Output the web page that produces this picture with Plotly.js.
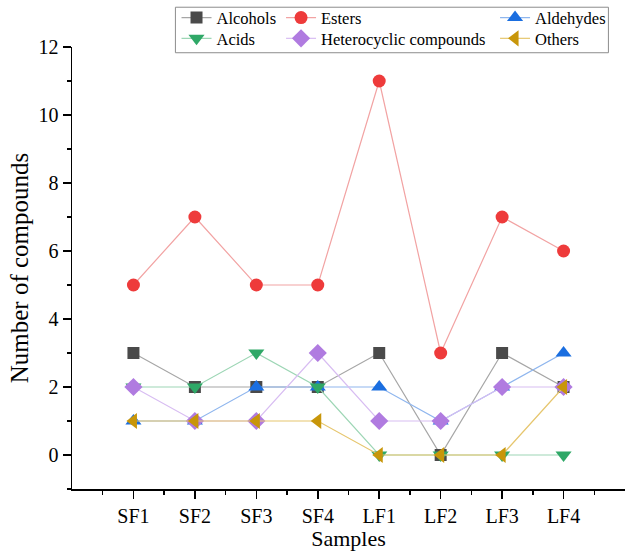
<!DOCTYPE html>
<html>
<head>
<meta charset="utf-8">
<script src="https://cdn.plot.ly/plotly-3.0.1.min.js"></script>
<style>html,body{margin:0;padding:0;background:#fff;}#chart{width:625px;height:551px;}</style>
</head>
<body>
<div id="chart"></div>
<script>
const categories = ['SF1','SF2','SF3','SF4','LF1','LF2','LF3','LF4'];
const alcohols = [3,2,2,2,3,0,3,2];
const esters = [5,7,5,5,11,3,7,6];
const aldehydes = [1,1,2,2,2,1,2,3];
const acids = [2,2,3,2,0,0,0,0];
const heterocyclic = [2,1,1,3,1,1,2,2];
const others = [1,1,1,1,0,0,0,2];
const seriesNames = ['Alcohols','Esters','Aldehydes','Acids','Heterocyclic compounds','Others'];

const xIdx = categories.map((c,i)=>i);
const FONT = '"Liberation Serif", "Times New Roman", serif';

const styles = [
  {sym:'square', mc:'#4a4a4a', lc:'#a6a6a6', size:12, legend:'legend'},
  {sym:'circle', mc:'#ee3b3b', lc:'#f2a3a3', size:13, legend:'legend2'},
  {sym:'triangle-up', mc:'#1a6ee0', lc:'#8fb6ee', size:14, legend:'legend3'},
  {sym:'triangle-down', mc:'#2fa867', lc:'#9dd6b5', size:14, legend:'legend4'},
  {sym:'diamond', mc:'#b07be0', lc:'#d8bdf2', size:14, legend:'legend5'},
  {sym:'triangle-left', mc:'#c8960a', lc:'#e6c66e', size:14, legend:'legend6'}
];
const values = [alcohols, esters, aldehydes, acids, heterocyclic, others];

const traces = values.map((v,i)=>({
  x: xIdx, y: v, name: seriesNames[i], type:'scatter', mode:'lines+markers',
  line:{color: styles[i].lc, width:1.2},
  marker:{symbol: styles[i].sym, color: styles[i].mc, size: styles[i].size, line:{width:0}},
  legend: styles[i].legend, cliponaxis:false
}));

const legFont = {family: FONT, size: 16.5, color:'#000'};
function leg(x,y){ return {x:x, y:y, xanchor:'left', yanchor:'middle', bgcolor:'rgba(0,0,0,0)', borderwidth:0, font:legFont, itemwidth:30}; }

const layout = {
  width:625, height:551,
  margin:{l:72, r:0, t:45, b:62},
  paper_bgcolor:'#fff', plot_bgcolor:'#fff',
  font:{family:FONT, color:'#000'},
  showlegend:true,
  xaxis:{
    range:[-1,8], tickmode:'array', tickvals:xIdx, ticktext:categories,
    showgrid:false, zeroline:false, showline:true, linecolor:'#000', linewidth:1.5,
    ticks:'outside', ticklen:8, tickwidth:1.5, tickcolor:'#000',
    tickfont:{family:FONT, size:20, color:'#000'},
    minor:{tickmode:'linear', tick0:0.5, dtick:1, ticks:'outside', ticklen:4, tickwidth:1.5, tickcolor:'#000', showgrid:false},
    title:{text:'Samples', font:{family:FONT, size:22, color:'#000'}, standoff:4}
  },
  yaxis:{
    range:[-1,12], tick0:0, dtick:2,
    showgrid:false, zeroline:false, showline:true, linecolor:'#000', linewidth:1.5,
    ticks:'outside', ticklen:8, tickwidth:1.5, tickcolor:'#000',
    tickfont:{family:FONT, size:20, color:'#000'},
    minor:{tick0:1, dtick:2, ticks:'outside', ticklen:4, tickwidth:1.5, tickcolor:'#000', showgrid:false},
    title:{text:'Number of compounds', font:{family:FONT, size:25, color:'#000'}, standoff:3}
  },
  legend: leg(0.189, 1.066),
  legend2: leg(0.378, 1.066),
  legend3: leg(0.765, 1.066),
  legend4: leg(0.189, 1.019),
  legend5: leg(0.378, 1.019),
  legend6: leg(0.765, 1.019),
  shapes:[{type:'rect', xref:'paper', yref:'paper', x0:0.187, x1:0.970, y0:0.987, y1:1.090,
    line:{color:'#8c8c8c', width:1}, fillcolor:'rgba(0,0,0,0)', layer:'above'}]
};

Plotly.newPlot('chart', traces, layout, {displayModeBar:false, staticPlot:true});
</script>
</body>
</html>
